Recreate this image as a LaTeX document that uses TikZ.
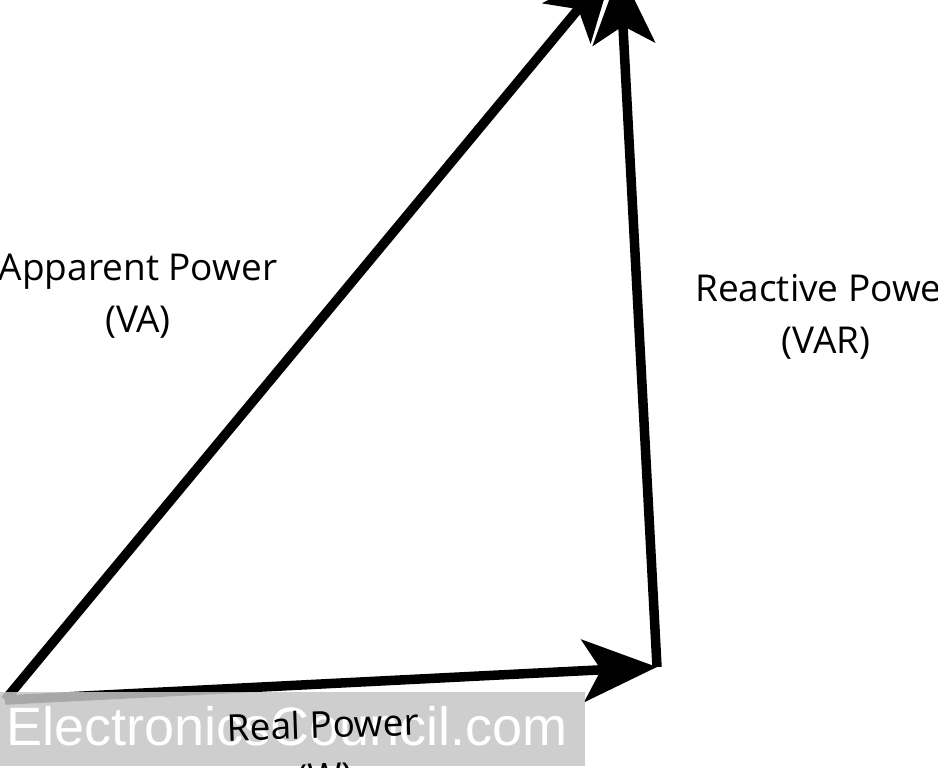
\documentclass[tikz,border=0pt]{standalone}
\usepackage{fontspec}
\setmainfont{Open Sans}
\newfontfamily\wmfont{Liberation Sans}
\usetikzlibrary{arrows.meta}
\tikzset{
  vec/.style={line width=9.5pt, line join=miter, -{Stealth[length=74pt,width=62pt,inset=18pt]}},
  lbl/.style={align=center, font=\fontsize{37}{52}\selectfont, inner sep=0pt},
}
\begin{document}
\begin{tikzpicture}[x=1pt,y=-1pt]
\useasboundingbox (0,0) rectangle (938,768);
\coordinate (O) at (5,700);
\coordinate (R) at (657,667);
\coordinate (T1) at (620,-30);
\coordinate (T2) at (614,-34);
\draw[vec] (O) -- (T2);
\draw[vec] (O) -- (R);
\draw[vec] (R) -- (T1);
\node[fill=gray!45, opacity=0.85, minimum width=585pt, minimum height=74pt, anchor=north west, inner sep=0pt] (wm) at (0,692) {};
\node[text=white, font=\wmfont\fontsize{54}{58}\selectfont, anchor=west, inner sep=0pt] (wmt) at (6,726) {ElectronicsCouncil.com};
\node[lbl] (app) at (138,296) {Apparent Power\\(VA)};
\node[lbl] (rea) at (826,317) {Reactive Power\\(VAR)};
\node[lbl, rotate=2] (real) at (324,753) {Real Power\\(W)};
\end{tikzpicture}
\end{document}
